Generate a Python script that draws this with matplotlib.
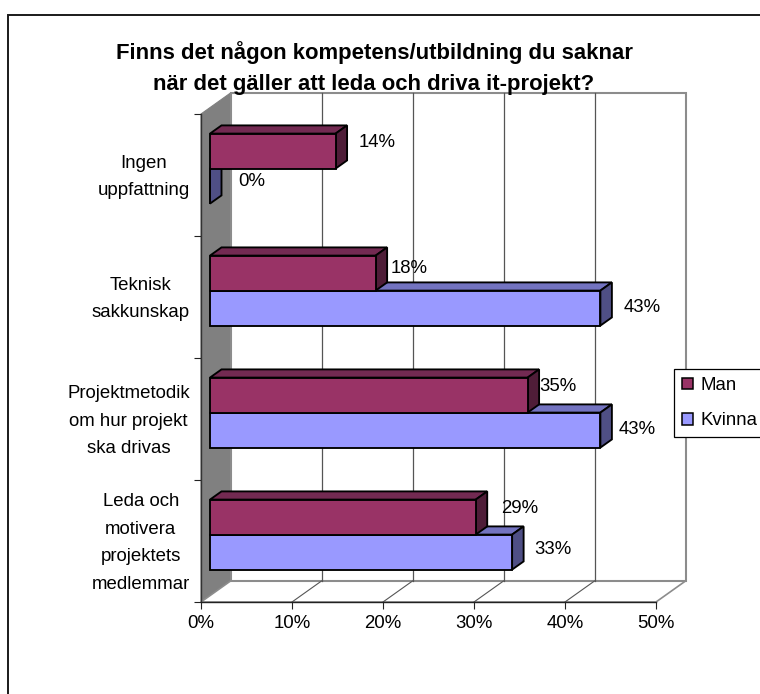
import matplotlib
matplotlib.use("Agg")
import matplotlib.pyplot as plt
from matplotlib.patches import Polygon, Patch
from matplotlib.transforms import ScaledTranslation

plt.rcParams['font.family'] = ['Liberation Sans', 'DejaVu Sans']

title = "Finns det någon kompetens/utbildning du saknar\nnär det gäller att leda och driva it-projekt?"
categories = ["Leda och\nmotivera\nprojektets\nmedlemmar",
              "Projektmetodik\nom hur projekt\nska drivas",
              "Teknisk\nsakkunskap",
              "Ingen\nuppfattning"]
man = [29.2, 34.9, 18.2, 13.8]
kvinna = [33.2, 42.9, 42.9, 0.0]
xticks = [0, 10, 20, 30, 40, 50]

W, H = 760, 694
L, R, B, T = 201, 656, 602, 114      # front plane, pixels
DPX, DPY = 29.5, 21.0                # depth of the box, pixels
FS = 13.4
fig = plt.figure(figsize=(W / 100, H / 100), dpi=100, facecolor='white')
ax = fig.add_axes([L / W, 1 - B / H, (R - L) / W, (B - T) / H])
ax.set_xlim(0, 50)
ax.set_ylim(0, len(categories))
ax.patch.set_visible(False)
for s in ax.spines.values():
    s.set_visible(False)

ux = (R - L) / 50        # px per percent
uy = (B - T) / len(categories)  # px per category
def P(x, y, depth=0.0):
    """data point pushed back by `depth` px of horizontal depth"""
    return (x + depth / ux, y + depth * DPY / DPX / uy)

def poly(pts, fc, ec, lw=1.0, z=1):
    ax.add_patch(Polygon(pts, closed=True, fc=fc, ec=ec, lw=lw, zorder=z,
                         clip_on=False, joinstyle='miter'))

n = len(categories)
wall_gray = '#808080'
edge_gray = '#8c8c8c'
# left wall, floor, back wall
poly([P(0, 0), P(0, n), P(0, n, DPX), P(0, 0, DPX)], wall_gray, '#808080', 0.8, 1)
poly([P(0, 0), P(50, 0), P(50, 0, DPX), P(0, 0, DPX)], 'white', edge_gray, 1.2, 1)
poly([P(0, 0, DPX), P(50, 0, DPX), P(50, n, DPX), P(0, n, DPX)], 'none', edge_gray, 1.5, 1)
ax.plot(*zip(P(0, 0), P(0, n)), color='#333333', lw=1.0, zorder=2, clip_on=False)
for t in xticks[1:-1]:
    ax.plot(*zip(P(t, 0, DPX), P(t, n, DPX)), color='#555555', lw=0.9, zorder=2, clip_on=False)
    ax.plot(*zip(P(t, 0), P(t, 0, DPX)), color='#555555', lw=0.8, zorder=2, clip_on=False)
ax.plot(*zip(P(0, 0), P(50, 0)), color='#222222', lw=1.0, zorder=3, clip_on=False)

# bars
D0, D1 = 9.0, 20.5       # depth span of bars, px
BAR = 35.0 / uy          # height of one bar, in category units
MAN_C = ('#993366', '#732A52', '#4F1D38')
KV_C = ('#9999FF', '#7373C0', '#4F4F85')
EC = 'black'
BLW = 1.35

def bar(v, y0, y1, cols, z):
    poly([P(0, y1, D0), P(v, y1, D0), P(v, y1, D1), P(0, y1, D1)], cols[1], EC, BLW, z)
    poly([P(v, y0, D0), P(v, y1, D0), P(v, y1, D1), P(v, y0, D1)], cols[2], EC, BLW, z)
    poly([P(0, y0, D0), P(v, y0, D0), P(v, y1, D0), P(0, y1, D0)], cols[0], EC, BLW, z)

# label offsets from the bar's front end, pixels
man_off = [(25, 9), (12, 9), (15, 5), (23, 9)]
kv_off = [(22, 3), (18, 1), (23, 1), (28, 5)]

for i in range(n):
    c = i + 0.5
    bar(kvinna[i], c - BAR, c, KV_C, 5 + i * 2)
    bar(man[i], c, c + BAR, MAN_C, 6 + i * 2)
    for v, off, yc in ((man[i], man_off[i], c + BAR / 2), (kvinna[i], kv_off[i], c - BAR / 2)):
        ax.annotate(f"{round(v)}%", xy=P(v, yc, D0), xytext=(off[0] * .72, off[1] * .72),
                    textcoords='offset points', fontsize=FS, ha='left', va='center',
                    color='black', zorder=50, annotation_clip=False)

# axes ticks
ax.set_xticks(xticks)
ax.set_xticklabels([f"{t}%" for t in xticks], fontsize=FS)
ax.set_yticks(range(n + 1))
ax.set_yticklabels([])
ax.set_yticks([i + .5 for i in range(n)], labels=categories, minor=True, fontsize=FS)
ax.tick_params(axis='x', length=5, width=0.8, pad=4.7, color='#222222')
ax.tick_params(axis='y', which='major', length=5, width=0.8, color='#222222')
ax.tick_params(axis='y', which='minor', length=0, pad=8)
shift = ScaledTranslation(0, -2 / 100, fig.dpi_scale_trans)
for lab in ax.get_yticklabels(minor=True):
    lab.set_multialignment('center')
    lab.set_linespacing(1.84)
    lab.set_verticalalignment('center')
    lab.set_transform(lab.get_transform() + shift)

fig.text(374 / W, 1 - 68 / H, title, ha='center', va='center', fontsize=15.9, fontweight='bold',
         linespacing=1.66)

# legend
handles = [Patch(fc=MAN_C[0], ec=EC, lw=1.1, label='Man'),
           Patch(fc=KV_C[0], ec=EC, lw=1.1, label='Kvinna')]
leg = fig.legend(handles=handles, loc='upper left', bbox_to_anchor=(674 / W, 1 - 369 / H),
                 bbox_transform=fig.transFigure, borderaxespad=0, fontsize=FS,
                 fancybox=False, framealpha=1, edgecolor='black', handlelength=0.6,
                 handleheight=0.6, handletextpad=0.38, labelspacing=0.98, borderpad=0.43)
leg.get_frame().set_linewidth(0.9)
leg.set_zorder(60)

# outer chart frame, open to the right and bottom
fig.add_artist(plt.Line2D([8 / W, 8 / W, 1], [0, 1 - 14.5 / H, 1 - 14.5 / H],
                          color='#1a1a1a', lw=1.4, solid_joinstyle='miter'))

fig.savefig('out.png', dpi=100)
